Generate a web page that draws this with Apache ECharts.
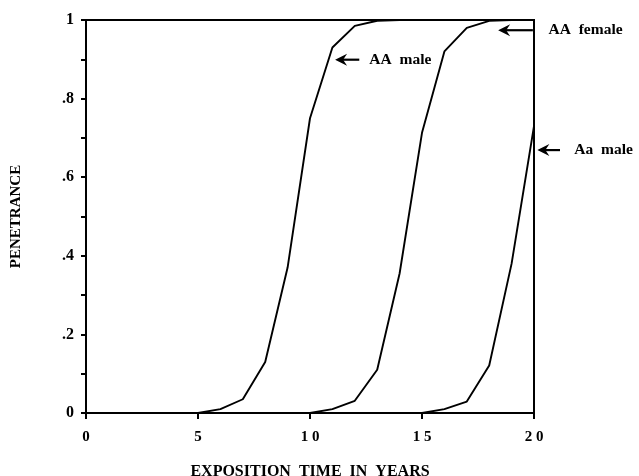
<!DOCTYPE html>
<html>
<head>
<meta charset="utf-8">
<script src="https://cdn.jsdelivr.net/npm/echarts@6/dist/echarts.min.js"></script>
<style>
  html, body { margin: 0; padding: 0; background: #fff; }
  #main { width: 639px; height: 476px; }
</style>
</head>
<body>
<div id="main"></div>
<script>
var years = [0, 1, 2, 3, 4, 5, 6, 7, 8, 9, 10, 11, 12, 13, 14, 15, 16, 17, 18, 19, 20];
var aaMale   = [0, 0, 0, 0, 0, 0, 0.01, 0.035, 0.13, 0.37, 0.75, 0.93, 0.985, 0.998, 1, 1, 1, 1, 1, 1, 1];
var aaFemale = [0, 0, 0, 0, 0, 0, 0, 0, 0, 0, 0, 0.01, 0.031, 0.11, 0.355, 0.713, 0.92, 0.98, 0.998, 1, 1];
var aaMaleHet = [0, 0, 0, 0, 0, 0, 0, 0, 0, 0, 0, 0, 0, 0, 0, 0, 0.01, 0.029, 0.121, 0.38, 0.73];

// arrow tip, arrow tail, text start (data coords)
var notes = [
    { text: 'AA  male',   tip: [11.12, 0.899], tail: [12.2, 0.899], textX: 12.65 },
    { text: 'AA  female', tip: [18.4, 0.974],  tail: [19.95, 0.974], textX: 20.65 },
    { text: 'Aa  male',   tip: [20.15, 0.669], tail: [21.16, 0.669], textX: 21.8 }
];

var serif = '"Liberation Serif", "Times New Roman", serif';

function toPairs(vals) {
    return years.map(function (x, i) { return [x, vals[i]]; });
}

function lineSeries(name, vals) {
    return {
        name: name,
        type: 'line',
        data: toPairs(vals),
        symbol: 'none',
        clip: false,
        lineStyle: { color: '#000', width: 1.9 }
    };
}

var chart = echarts.init(document.getElementById('main'));
var option = {
    animation: false,
    backgroundColor: '#fff',
    grid: {
        left: 86, right: 105, top: 20, bottom: 63,
        outerBoundsMode: 'none',
        containLabel: false,
        show: true, borderColor: '#000', borderWidth: 2
    },
    xAxis: {
        type: 'value',
        min: 0, max: 20, interval: 5,
        name: 'EXPOSITION  TIME  IN  YEARS',
        nameLocation: 'middle',
        nameGap: 51,
        nameTextStyle: { fontFamily: serif, fontWeight: 'bold', fontSize: 16, color: '#000' },
        axisLine: { lineStyle: { color: '#000', width: 2 } },
        axisTick: { show: true, length: 6, lineStyle: { color: '#000', width: 2 } },
        axisLabel: {
            margin: 17,
            fontFamily: serif, fontWeight: 'bold', fontSize: 15, color: '#000',
            formatter: function (v) { return String(v).split('').join(' '); }
        },
        splitLine: { show: false }
    },
    yAxis: {
        type: 'value',
        min: 0, max: 1, interval: 0.2,
        name: 'PENETRANCE',
        nameLocation: 'middle',
        nameGap: 62,
        nameTextStyle: { fontFamily: serif, fontWeight: 'bold', fontSize: 15, color: '#000' },
        axisLine: { lineStyle: { color: '#000', width: 2 } },
        axisTick: { show: true, length: 5, lineStyle: { color: '#000', width: 2 } },
        minorTick: { show: true, splitNumber: 2, length: 5, lineStyle: { color: '#000', width: 2 } },
        axisLabel: {
            margin: 12,
            fontFamily: serif, fontWeight: 'bold', fontSize: 16, color: '#000',
            formatter: function (v) {
                if (v === 0) return '0';
                if (v === 1) return '1';
                return '.' + Math.round(v * 10);
            }
        },
        splitLine: { show: false }
    },
    series: [
        lineSeries('AA male', aaMale),
        lineSeries('AA female', aaFemale),
        lineSeries('Aa male', aaMaleHet)
    ]
};
chart.setOption(option);

// 箭头注释
var elements = [];
notes.forEach(function (n) {
    var tip = chart.convertToPixel({ gridIndex: 0 }, n.tip);
    var tail = chart.convertToPixel({ gridIndex: 0 }, n.tail);
    var tx = chart.convertToPixel({ gridIndex: 0 }, [n.textX, n.tip[1]]);
    elements.push({
        type: 'line',
        shape: { x1: tip[0] + 6, y1: tip[1], x2: tail[0], y2: tail[1] },
        style: { stroke: '#000', lineWidth: 2.2 }
    });
    elements.push({
        type: 'polygon',
        shape: { points: [[tip[0], tip[1]], [tip[0] + 12, tip[1] - 6], [tip[0] + 8, tip[1]], [tip[0] + 12, tip[1] + 6]] },
        style: { fill: '#000' }
    });
    elements.push({
        type: 'text',
        x: tx[0], y: tx[1],
        style: {
            text: n.text, fill: '#000',
            font: 'bold 15.5px ' + serif,
            textVerticalAlign: 'middle', verticalAlign: 'middle'
        }
    });
});
chart.setOption({ graphic: { elements: elements } });
</script>
</body>
</html>
